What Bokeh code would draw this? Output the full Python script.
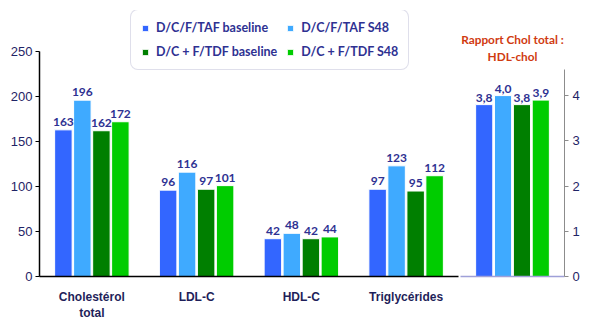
from bokeh.plotting import figure
from bokeh.models import (FactorRange, Range1d, ColumnDataSource, LabelSet, Legend, LegendItem,
                          Label, FixedTicker)
from bokeh.transform import dodge
from bokeh.layouts import row
from bokeh.core.properties import value
from bokeh.embed import file_html
from bokeh.resources import INLINE

# ---- data ----
categories = ["Cholestérol\ntotal", "LDL-C", "HDL-C", "Triglycérides"]
series_names = ["D/C/F/TAF baseline", "D/C/F/TAF S48", "D/C + F/TDF baseline", "D/C + F/TDF S48"]
taf_baseline = [163, 96, 42, 97]
taf_s48 = [196, 116, 48, 123]
tdf_baseline = [162, 97, 42, 95]
tdf_s48 = [172, 101, 44, 112]
ratio_category = ["ratio"]
ratio_values = [3.8, 4.0, 3.8, 3.9]
ratio_labels = ["3,8", "4,0", "3,8", "3,9"]
ratio_title = ["Rapport Chol total :", "HDL-chol"]
y_ticks_left = [0, 50, 100, 150, 200, 250]
y_ticks_right = [0, 1, 2, 3, 4]

colors = ["#3366FF", "#3FAAFF", "#007F00", "#00CC00"]
offsets = [-0.272, -0.091, 0.091, 0.272]
bar_w = 0.167
NAVY = "#2E3192"
TICK_NAVY = "#1F2466"
LABEL_FONT = "Lato"

# ---- left figure ----
src = ColumnDataSource(dict(cat=categories, a=taf_baseline, b=taf_s48, c=tdf_baseline, d=tdf_s48,
                            la=[str(v) for v in taf_baseline], lb=[str(v) for v in taf_s48],
                            lc=[str(v) for v in tdf_baseline], ld=[str(v) for v in tdf_s48]))

p = figure(x_range=FactorRange(*categories, range_padding=0), y_range=Range1d(0, 295.65),
           width=460, height=323, output_backend="svg", toolbar_location=None,
           min_border_left=39, min_border_right=2, min_border_top=10, min_border_bottom=41)
p.outline_line_color = None
p.grid.visible = False
p.background_fill_color = "white"

renderers = []
for key, lab, col, off, name in zip(["a", "b", "c", "d"], ["la", "lb", "lc", "ld"], colors, offsets, series_names):
    r = p.vbar(x=dodge("cat", off, range=p.x_range), top=key, width=bar_w, source=src,
               fill_color=col, line_color="white", line_width=1)
    renderers.append((name, r))
    p.add_layout(LabelSet(x=dodge("cat", off, range=p.x_range), y=key, text=lab, source=src,
                          text_align="center", text_baseline="bottom", y_offset=4,
                          text_font=value(LABEL_FONT), text_font_style="bold",
                          text_font_size="12px", text_color=NAVY))

p.yaxis.ticker = FixedTicker(ticks=y_ticks_left)
p.yaxis.bounds = (0, 250)
p.yaxis.minor_tick_line_color = None
p.yaxis.major_tick_out = 4
p.yaxis.major_tick_in = 0
p.yaxis.axis_line_width = 1.5
p.yaxis.axis_line_color = "black"
p.yaxis.major_tick_line_color = "black"
p.yaxis.major_label_text_font = "Liberation Sans"
p.yaxis.major_label_text_font_size = "13px"
p.yaxis.major_label_text_color = TICK_NAVY
p.yaxis.major_label_standoff = 3

p.xaxis.axis_line_width = 1.5
p.xaxis.axis_line_color = "black"
p.xaxis.major_tick_line_color = None
p.xaxis.minor_tick_line_color = None
p.xaxis.major_label_text_font = "Liberation Sans"
p.xaxis.major_label_text_font_style = "bold"
p.xaxis.major_label_text_font_size = "12px"
p.xaxis.major_label_text_color = "#1F1F5A"
p.xaxis.major_label_standoff = 7

legend = Legend(items=[LegendItem(label=renderers[i][0], renderers=[renderers[i][1]]) for i in [0, 2, 1, 3]],
                location=(91, 206), ncols=2)
legend.glyph_width = 8
legend.glyph_height = 8
legend.label_standoff = 7
legend.label_height = 14
legend.spacing = 9
legend.padding = 10
legend.margin = 0
legend.label_text_font = LABEL_FONT
legend.label_text_font_style = "bold"
legend.label_text_font_size = "12.5px"
legend.label_text_color = NAVY
legend.border_line_color = "#BFC0D8"
legend.border_line_width = 1.5
legend.background_fill_color = "white"
legend.background_fill_alpha = 1
if "border_radius" in Legend.properties():
    legend.border_radius = 8
p.add_layout(legend, "center")

# ---- right figure ----
p2 = figure(x_range=FactorRange(*ratio_category, range_padding=0), y_range=Range1d(0, 5.881),
            width=136, height=323, output_backend="svg", toolbar_location=None,
            y_axis_location="right",
            min_border_left=0, min_border_right=32, min_border_top=10, min_border_bottom=41)
p2.outline_line_color = None
p2.grid.visible = False

for v, lab, col, off in zip(ratio_values, ratio_labels, colors, offsets):
    s = ColumnDataSource(dict(cat=ratio_category, v=[v], t=[lab]))
    p2.vbar(x=dodge("cat", off, range=p2.x_range), top="v", width=0.165, source=s,
            fill_color=col, line_color="white", line_width=1)
    p2.add_layout(LabelSet(x=dodge("cat", off, range=p2.x_range), y="v", text="t", source=s,
                           text_align="center", text_baseline="bottom", y_offset=3,
                           text_font=value(LABEL_FONT), text_font_style="bold",
                           text_font_size="12px", text_color=NAVY))

p2.yaxis.ticker = FixedTicker(ticks=y_ticks_right)
p2.yaxis.bounds = (0, 4.58)
p2.yaxis.minor_tick_line_color = None
p2.yaxis.major_tick_out = 4
p2.yaxis.major_tick_in = 0
p2.yaxis.axis_line_color = "#8C8C8C"
p2.yaxis.major_tick_line_color = "#8C8C8C"
p2.yaxis.major_label_text_font = "Liberation Sans"
p2.yaxis.major_label_text_font_size = "13px"
p2.yaxis.major_label_text_color = TICK_NAVY
p2.yaxis.major_label_standoff = 4

p2.xaxis.axis_line_color = "#9FA0D8"
p2.xaxis.axis_line_width = 1.5
p2.xaxis.major_tick_line_color = None
p2.xaxis.minor_tick_line_color = None
p2.xaxis.major_label_text_font_size = "0px"
p2.xaxis.major_label_text_alpha = 0

for txt, yy in zip(ratio_title, [237, 220]):
    p2.add_layout(Label(x=52, y=yy, x_units="screen", y_units="screen", text=txt,
                        text_align="center", text_baseline="middle",
                        text_font=LABEL_FONT, text_font_style="bold",
                        text_font_size="11.8px", text_color="#D03A10"))

layout = row(p, p2)
open("out.html", "w").write(file_html(layout, INLINE))
